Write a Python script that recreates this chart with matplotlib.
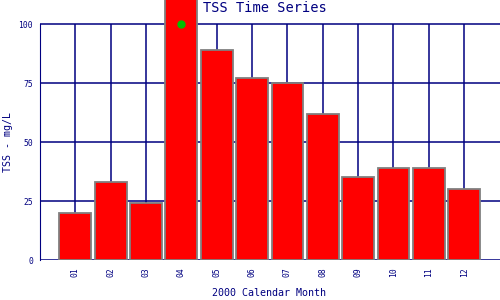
import matplotlib
matplotlib.use("Agg")
import matplotlib.pyplot as plt

months = ["01", "02", "03", "04", "05", "06", "07", "08", "09", "10", "11", "12"]
tss = [20, 33, 24, 115, 89, 77, 75, 62, 35, 39, 39, 30]
marker_month = ["04"]
marker_value = [100]
yticks = [0, 25, 50, 75, 100]

navy = "#000080"
plt.rcParams['font.family'] = ['DejaVu Sans Mono']

fig = plt.figure(figsize=(5, 3), dpi=100)
ax = fig.add_axes([40/500, 40/300, 459.5/500, 260/300])
x = list(range(1, len(months) + 1))

ax.set_xlim(0, 13)
ax.set_ylim(0, 110.2)

for yv in yticks:
    ax.axhline(yv, color=navy, lw=1.1, zorder=1)
ax.vlines(x, 0, 100, color=navy, lw=1.1, zorder=1)

ax.bar(x, tss, width=0.9, color="#ff0000", edgecolor="#808080", linewidth=1.3, zorder=2)
mx = [months.index(m) + 1 for m in marker_month]
ax.plot(mx, marker_value, 'o', color="#00c000", markersize=5, zorder=3)

for s in ["top", "right", "bottom"]:
    ax.spines[s].set_visible(False)
ax.spines["left"].set_color(navy)
ax.spines["left"].set_bounds(0, 100)

ax.set_yticks(yticks)
ax.set_yticklabels([str(v) for v in yticks], fontsize=5.8, color=navy)
ax.set_xticks(x)
ax.set_xticklabels(months, rotation=90, fontsize=5.8, color=navy)
ax.tick_params(length=0, pad=5)

fig.text(269/500, 1 - 293/300, "2000 Calendar Month", fontsize=7.2, color=navy,
         ha="center", va="center")
fig.text(8/500, 1 - 142/300, "TSS - mg/L", fontsize=7.2, color=navy,
         ha="center", va="center", rotation=90)
fig.text(265/500, 1 - 8/300, "TSS Time Series", fontsize=9.8, color=navy,
         ha="center", va="center")

fig.savefig("out.png", dpi=100)
